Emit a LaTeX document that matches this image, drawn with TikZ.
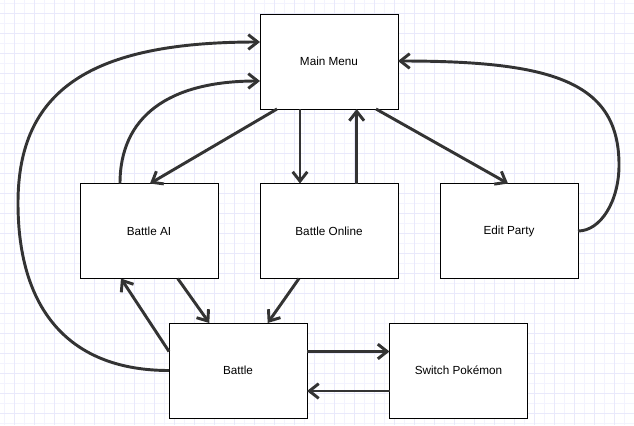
\documentclass[tikz,border=0pt]{standalone}
\usepackage{fontspec}
\setmainfont{Liberation Sans}
\usetikzlibrary{arrows.meta,calc}
\definecolor{gridminor}{RGB}{243,243,254}
\definecolor{gridmajor}{RGB}{233,233,251}
\definecolor{linkcol}{RGB}{51,51,51}
\tikzset{
  statebox/.style={draw=black,fill=white,line width=0.75pt,minimum width=103.5pt,minimum height=71.25pt,inner sep=0pt,outer sep=0pt,font=\fontsize{8.8pt}{10pt}\selectfont},
  link/.style={draw=linkcol,line width=2.2pt,-{Straight Barb[length=7pt,width=11pt]}},
  gminor/.style={draw=gridminor,line width=0.75pt},
  gmajor/.style={draw=gridmajor,line width=0.75pt}
}
\begin{document}
\begin{tikzpicture}[x=0.75pt,y=-0.75pt]
\useasboundingbox (0,0) rectangle (634,425);
\fill[white] (0,0) rectangle (634,425);
% grid
\foreach \gx in {4.5,24.5,...,634} {\draw[gminor] (\gx,0) -- (\gx,425);}
\foreach \gy in {3.5,23.5,...,425} {\draw[gminor] (0,\gy) -- (634,\gy);}
\foreach \gx in {14.5,34.5,...,634} {\draw[gmajor] (\gx,0) -- (\gx,425);}
\foreach \gy in {13.5,33.5,...,425} {\draw[gmajor] (0,\gy) -- (634,\gy);}
% nodes
\node[statebox] (mm) at (329,61.5) {Main Menu};
\node[statebox] (ai) at (149,231) {Battle AI};
\node[statebox] (on) at (329,231) {Battle Online};
\node[statebox] (ep) at (509,231) {Edit Party};
\node[statebox] (bt) at (238,370.5) {Battle};
\node[statebox] (sw) at (458.5,370.5) {Switch Pokémon};
% helper coordinates for curves
\coordinate (leftbend) at (18,203);
\coordinate (rightbend) at (619,165);
% straight connectors
\draw[link] ($(mm.south west)+(17,0)$) -- ($(ai.north)+(1,0)$);
\draw[link] ($(mm.south)+(-29,0)$) -- ($(on.north)+(-29,0)$);
\draw[link] ($(on.north)+(27.7,0)$) -- ($(mm.south)+(27.7,0)$);
\draw[link] ($(mm.south east)+(-22,0)$) -- ($(ep.north)+(-1,0)$);
\draw[link] ($(ai.south)+(28.7,0)$) -- ($(bt.north)+(-28.7,0)$);
\draw[link] ($(on.south)+(-30,0)$) -- ($(bt.north)+(29.7,0)$);
\draw[link] ($(bt.north west)+(0,28.5)$) -- ($(ai.south west)+(41,0)$);
\draw[link] ($(bt.east)+(0,-19)$) -- ($(sw.west)+(0,-19)$);
\draw[link] ($(sw.west)+(0,20.5)$) -- ($(bt.east)+(0,20.5)$);
% curved connectors
\draw[link] (bt.west) .. controls (70.8,370.5) and (18,311.6) .. (leftbend)
  .. controls (18,90.3) and (90,42) .. ($(mm.west)+(0,-19.5)$);
\draw[link] ($(ai.north)+(-29,0)$) .. controls (120,116.7) and (168.3,81) .. ($(mm.west)+(0,19.5)$);
\draw[link] (ep.east) .. controls (600.6,231) and (619,201.3) .. (rightbend)
  .. controls (619,81.8) and (552.7,61) .. ($(mm.east)+(0,-0.5)$);
\end{tikzpicture}
\end{document}
